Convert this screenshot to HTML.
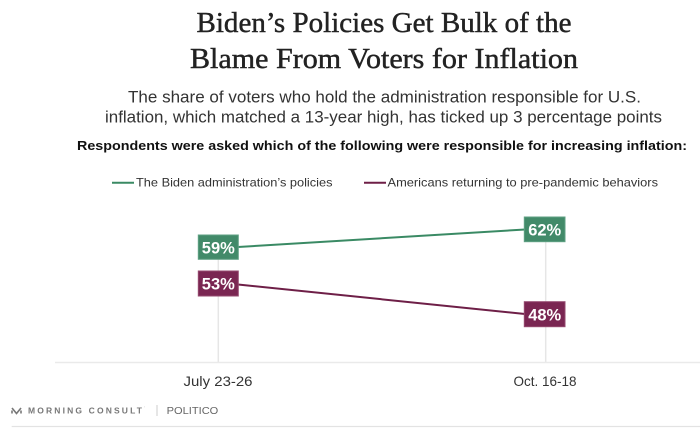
<!DOCTYPE html>
<html><head><meta charset="utf-8"><style>
html,body{margin:0;padding:0;background:#fff;}
svg{display:block;}
</style></head><body>
<svg width="700" height="429" viewBox="0 0 700 429" xmlns="http://www.w3.org/2000/svg">
<rect width="700" height="429" fill="#fff"/>
<!-- Title -->
<g font-family="'Liberation Serif', serif" font-size="29" fill="#222" stroke="#222" stroke-width="0.45">
<text x="196.5" y="32" textLength="375" lengthAdjust="spacingAndGlyphs">Biden’s Policies Get Bulk of the</text>
<text x="190" y="68" textLength="388" lengthAdjust="spacingAndGlyphs">Blame From Voters for Inflation</text>
</g>
<!-- Subtitle -->
<g font-family="'Liberation Sans', sans-serif" font-size="16.5" fill="#333">
<text x="128" y="102.5" textLength="513" lengthAdjust="spacingAndGlyphs">The share of voters who hold the administration responsible for U.S.</text>
<text x="105" y="122.5" textLength="557" lengthAdjust="spacingAndGlyphs">inflation, which matched a 13-year high, has ticked up 3 percentage points</text>
</g>
<text x="77" y="150" font-family="'Liberation Sans', sans-serif" font-size="13" font-weight="bold" fill="#111" textLength="610" lengthAdjust="spacingAndGlyphs">Respondents were asked which of the following were responsible for increasing inflation:</text>
<!-- Legend -->
<line x1="112" y1="182.7" x2="134" y2="182.7" stroke="#3a8a64" stroke-width="2"/>
<text x="136" y="186.7" font-family="'Liberation Sans', sans-serif" font-size="12" fill="#333" textLength="196.5" lengthAdjust="spacingAndGlyphs">The Biden administration’s policies</text>
<line x1="364" y1="182.7" x2="386" y2="182.7" stroke="#6e1f47" stroke-width="2"/>
<text x="387.5" y="186.7" font-family="'Liberation Sans', sans-serif" font-size="12" fill="#333" textLength="270.5" lengthAdjust="spacingAndGlyphs">Americans returning to pre-pandemic behaviors</text>
<!-- Gridlines -->
<line x1="218.3" y1="247" x2="218.3" y2="362" stroke="#e6e6e6" stroke-width="1.5"/>
<line x1="545.7" y1="230" x2="545.7" y2="362" stroke="#e6e6e6" stroke-width="1.5"/>
<line x1="55" y1="362.5" x2="700" y2="362.5" stroke="#eaeaea" stroke-width="1.5"/>
<!-- Series lines -->
<line x1="238" y1="247" x2="525" y2="229.5" stroke="#3a8a64" stroke-width="2"/>
<line x1="238" y1="284.5" x2="525" y2="314" stroke="#6e1f47" stroke-width="2"/>
<!-- Label boxes -->
<g font-family="'Liberation Sans', sans-serif" font-size="16.5" font-weight="bold" fill="#fff" text-anchor="middle">
<rect x="198.3" y="235" width="40" height="24.3" fill="#428a69" stroke="#5fa083" stroke-width="1"/>
<text x="218.3" y="253.3" textLength="33" lengthAdjust="spacingAndGlyphs">59%</text>
<rect x="524.3" y="217" width="40.7" height="24.7" fill="#428a69" stroke="#5fa083" stroke-width="1"/>
<text x="544.7" y="235.5" textLength="33" lengthAdjust="spacingAndGlyphs">62%</text>
<rect x="198.3" y="271" width="40" height="25" fill="#7a2652" stroke="#94496f" stroke-width="1"/>
<text x="218.3" y="289.6" textLength="33" lengthAdjust="spacingAndGlyphs">53%</text>
<rect x="524.3" y="301.7" width="40.7" height="25" fill="#7a2652" stroke="#94496f" stroke-width="1"/>
<text x="544.7" y="320.3" textLength="33" lengthAdjust="spacingAndGlyphs">48%</text>
</g>
<!-- Axis labels -->
<g font-family="'Liberation Sans', sans-serif" font-size="14" fill="#333" text-anchor="middle">
<text x="218" y="386" textLength="69" lengthAdjust="spacingAndGlyphs">July 23-26</text>
<text x="545" y="386" textLength="63" lengthAdjust="spacingAndGlyphs">Oct. 16-18</text>
</g>
<!-- Footer -->
<path d="M12 408 L16.5 413.5 L21 408 M12 410.5 L12 413.5 M21 410.5 L21 413.5" stroke="#777" stroke-width="1.6" fill="none"/>
<text x="28" y="413.5" font-family="'Liberation Sans', sans-serif" font-size="8.5" font-weight="bold" fill="#777" textLength="114" lengthAdjust="spacing">MORNING CONSULT</text>
<text x="144" y="409" font-family="'Liberation Sans', sans-serif" font-size="4" fill="#999">’</text>
<line x1="157" y1="405" x2="157" y2="416" stroke="#ccc" stroke-width="1"/>
<text x="166.7" y="414" font-family="'Liberation Sans', sans-serif" font-size="10.5" fill="#666" textLength="51.6" lengthAdjust="spacingAndGlyphs">POLITICO</text>
<line x1="11.7" y1="426.5" x2="700" y2="426.5" stroke="#e3e3e3" stroke-width="1.2"/>
</svg>
</body></html>
